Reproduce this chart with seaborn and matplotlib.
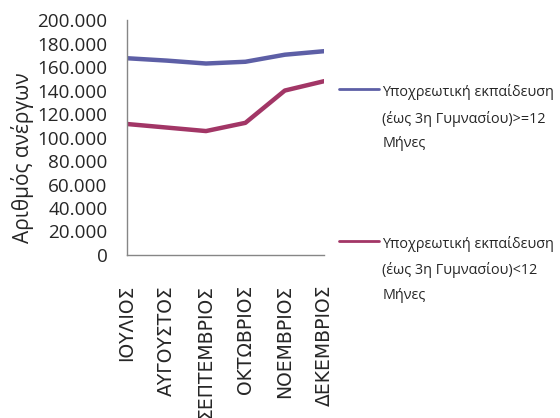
import numpy as np
import pandas as pd
import seaborn as sns
import matplotlib
matplotlib.use("Agg")
import matplotlib.pyplot as plt
from matplotlib.ticker import FuncFormatter
from matplotlib.legend_handler import HandlerLine2D

months = ["ΙΟΥΛΙΟΣ", "ΑΥΓΟΥΣΤΟΣ", "ΣΕΠΤΕΜΒΡΙΟΣ", "ΟΚΤΩΒΡΙΟΣ", "ΝΟΕΜΒΡΙΟΣ", "ΔΕΚΕΜΒΡΙΟΣ"]
over_12 = [167500, 165500, 163000, 164500, 170500, 173500]
under_12 = [111500, 108500, 105500, 112500, 140000, 148000]
label_over = "Υποχρεωτική εκπαίδευση\n(έως 3η Γυμνασίου)>=12\nΜήνες"
label_under = "Υποχρεωτική εκπαίδευση\n(έως 3η Γυμνασίου)<12\nΜήνες"
colors = ["#5d5fa6", "#a23666"]

df = pd.DataFrame({
    "pos": list(range(len(months))) * 2,
    "value": over_12 + under_12,
    "series": [label_over] * len(months) + [label_under] * len(months),
})

sns.set_style("white")
plt.rcParams["font.family"] = ["Open Sans", "DejaVu Sans"]


# legend line sits next to the first line of the label, not the middle
class TopLineHandler(HandlerLine2D):
    def create_artists(self, legend, orig_handle, xdescent, ydescent,
                       width, height, fontsize, trans):
        arts = super().create_artists(legend, orig_handle, xdescent, ydescent,
                                      width, height, fontsize, trans)
        for a in arts:
            a.set_ydata(np.asarray(a.get_ydata()) + 21)
        return arts


fig = plt.figure(figsize=(5.6, 4.18), dpi=100)
ax = fig.add_axes([0.227, 0.39, 0.352, 0.562])

sns.lineplot(data=df, x="pos", y="value", hue="series",
             palette=colors, linewidth=3.2, ax=ax, legend=False)

ax.set_xlim(0, len(months) - 1)
ax.set_ylim(0, 200000)
ax.set_yticks(np.arange(0, 200001, 20000))
ax.yaxis.set_major_formatter(FuncFormatter(lambda v, p: f"{v:,.0f}".replace(",", ".")))
ax.set_xticks(range(len(months)))
ax.set_xticklabels(months, rotation=90, fontsize=13.5, family=["DejaVu Sans"])
ax.tick_params(axis="y", labelsize=13.6, length=7, color="#868686", pad=7)
ax.tick_params(axis="x", length=5.5, color="#868686", pad=16)
ax.set_xlabel("")
ax.set_ylabel("Αριθμός ανέργων", fontsize=15)
ax.yaxis.set_label_coords(-0.47, 0.413)

for s in ["top", "right"]:
    ax.spines[s].set_visible(False)
for s in ["left", "bottom"]:
    ax.spines[s].set_color("#868686")
    ax.spines[s].set_linewidth(1)

handles = [plt.Line2D([], [], color=c, linewidth=2) for c in colors]
leg = fig.legend(handles, [label_over, label_under], loc="upper left",
                 bbox_to_anchor=(0.582, 0.829), frameon=False, fontsize=10.4,
                 handlelength=2.8, handletextpad=0.2, labelspacing=5.9,
                 handler_map={plt.Line2D: TopLineHandler()})
for t in leg.get_texts():
    t.set_linespacing(1.85)

fig.savefig("out.png", dpi=100)
